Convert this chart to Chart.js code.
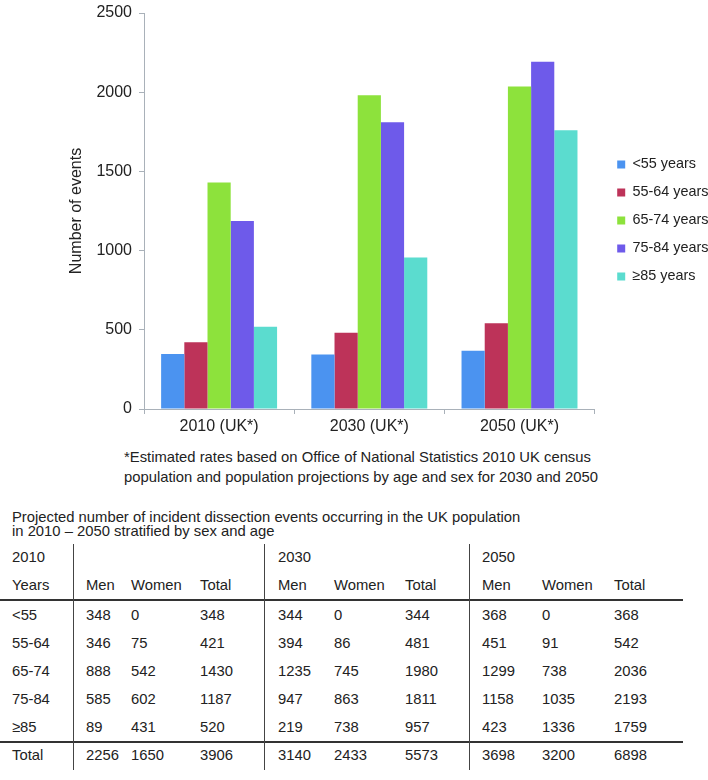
<!DOCTYPE html>
<html>
<head>
<meta charset="utf-8">
<script src="https://cdn.jsdelivr.net/npm/chart.js@4/dist/chart.umd.min.js"></script>
<style>
  html, body { margin:0; padding:0; background:#fff; }
  body { width:708px; height:780px; position:relative; overflow:hidden;
         font-family:"Liberation Sans", Arial, Helvetica, sans-serif; color:#222; }
  #chartBox { position:absolute; left:0; top:0; width:708px; height:440px; }
  .txt { position:absolute; white-space:nowrap; font-size:14.8px; }
  .cell { position:absolute; white-space:nowrap; font-size:14.8px; height:20px; line-height:20px; }
  .hline { position:absolute; background:#333; }
  .vline { position:absolute; background:#444; width:1px; }
</style>
</head>
<body>
<div id="chartBox"><canvas id="c" width="708" height="440"></canvas></div>
<div class="txt" id="foot" style="left:124px; top:447px; line-height:20px;"></div>
<div class="txt" id="tableTitle" style="left:12px; top:510px; line-height:14px;"></div>
<div id="table"></div>
<script>
// ---- Chart data ----
const categories = ['2010 (UK*)', '2030 (UK*)', '2050 (UK*)'];
const ageGroups = ['<55 years', '55-64 years', '65-74 years', '75-84 years', '\u226585 years'];
const under55 = [348, 344, 368];
const age55to64 = [421, 481, 542];
const age65to74 = [1430, 1980, 2036];
const age75to84 = [1187, 1811, 2193];
const age85plus = [520, 957, 1759];
const yTicks = [0, 500, 1000, 1500, 2000, 2500];

// ---- Table data ----
const tableYears = ['2010', '2030', '2050'];
const tableColHeads = ['Men', 'Women', 'Total'];
const tableRowLabels = ['<55', '55-64', '65-74', '75-84', '\u226585', 'Total'];
const men2010 = [348, 346, 888, 585, 89, 2256];
const women2010 = [0, 75, 542, 602, 431, 1650];
const total2010 = [348, 421, 1430, 1187, 520, 3906];
const men2030 = [344, 394, 1235, 947, 219, 3140];
const women2030 = [0, 86, 745, 863, 738, 2433];
const total2030 = [344, 481, 1980, 1811, 957, 5573];
const men2050 = [368, 451, 1299, 1158, 423, 3698];
const women2050 = [0, 91, 738, 1035, 1336, 3200];
const total2050 = [368, 542, 2036, 2193, 1759, 6898];

const footLines = ['*Estimated rates based on Office of National Statistics 2010 UK census',
                   'population and population projections by age and sex for 2030 and 2050'];
const titleLines = ['Projected number of incident dissection events occurring in the UK population',
                    'in 2010 \u2013 2050 stratified by sex and age'];

// ---- Styles ----
const colors = ['#4b93f0', '#bd3359', '#8de23c', '#6e5aea', '#5bdccf'];
const axisColor = '#a9b1b9';
const textColor = '#222';
const fontFamily = '"Liberation Sans", Arial, Helvetica, sans-serif';

Chart.defaults.font.family = fontFamily;
Chart.defaults.color = textColor;

const seriesValues = [under55, age55to64, age65to74, age75to84, age85plus];

const legendNudge = {
  id: 'legendNudge',
  afterLayout(chart) {
    const l = chart.legend;
    const dx = 9, dy = -6;
    l.left += dx; l.right += dx; l.top += dy; l.bottom += dy;
  }
};

new Chart(document.getElementById('c'), {
  type: 'bar',
  data: {
    labels: categories,
    datasets: ageGroups.map((g, i) => ({
      label: g,
      data: seriesValues[i],
      backgroundColor: colors[i],
      borderWidth: 0,
      categoryPercentage: 0.772,
      barPercentage: 1.0
    }))
  },
  options: {
    responsive: false,
    animation: false,
    layout: { padding: { left: 0, top: 13, right: -1.4, bottom: 0 } },
    plugins: {
      legend: {
        position: 'right',
        align: 'center',
        labels: { boxWidth: 8, boxHeight: 8, padding: 13.6, color: textColor,
                  font: { size: 14.4, family: fontFamily } }
      },
      tooltip: { enabled: false }
    },
    scales: {
      x: {
        grid: { drawOnChartArea: false, drawTicks: true, tickLength: 5, color: axisColor, offset: true },
        border: { color: axisColor, width: 1 },
        ticks: { color: textColor, font: { size: 16 }, padding: 3 },
        afterFit(s) { s.height = 31; }
      },
      y: {
        min: yTicks[0], max: yTicks[yTicks.length - 1],
        afterBuildTicks(s) { s.ticks = yTicks.map(v => ({ value: v })); },
        grid: { drawOnChartArea: false, drawTicks: true, tickLength: 5, color: axisColor },
        border: { color: axisColor, width: 1 },
        ticks: { color: textColor, font: { size: 16 }, padding: 7, callback: v => String(v) },
        title: { display: true, text: 'Number of events', color: textColor,
                 font: { size: 16 }, padding: { top: 66.5, bottom: 0 } },
        afterFit(s) { s.width = 144; s.paddingTop = 0; s.paddingBottom = 0; }
      }
    }
  },
  plugins: [legendNudge]
});

// ---- Footnote and table (HTML text) ----
document.getElementById('foot').innerHTML = footLines.join('<br>');
document.getElementById('tableTitle').innerHTML = titleLines.join('<br>');

const tbl = document.getElementById('table');
function addCell(text, x, yCenter) {
  const d = document.createElement('div');
  d.className = 'cell';
  d.textContent = text;
  d.style.left = x + 'px';
  d.style.top = (yCenter - 10) + 'px';
  tbl.appendChild(d);
}
function addLine(cls, x, y, w, h) {
  const d = document.createElement('div');
  d.className = cls;
  d.style.left = x + 'px'; d.style.top = y + 'px';
  d.style.width = w + 'px'; d.style.height = h + 'px';
  tbl.appendChild(d);
}
const blockCols = [[86, 131, 200], [278, 334, 405], [482, 542, 614]];
const yearX = [12, 278, 482];
const headY = [557, 585];
const rowY = [615, 643, 671, 699, 727, 755];
const blockData = [[men2010, women2010, total2010], [men2030, women2030, total2030], [men2050, women2050, total2050]];

tableYears.forEach((yr, b) => addCell(yr, yearX[b], headY[0]));
addCell('Years', 12, headY[1]);
blockCols.forEach(cols => cols.forEach((x, k) => addCell(tableColHeads[k], x, headY[1])));
tableRowLabels.forEach((lab, r) => {
  addCell(lab, 12, rowY[r]);
  blockData.forEach((block, b) => block.forEach((arr, k) => addCell(String(arr[r]), blockCols[b][k], rowY[r])));
});
addLine('hline', 0, 599, 683, 1.5);
addLine('hline', 0, 741, 683, 1.5);
[73, 264, 469].forEach(x => addLine('vline', x, 544, 1, 226));
</script>
</body>
</html>
